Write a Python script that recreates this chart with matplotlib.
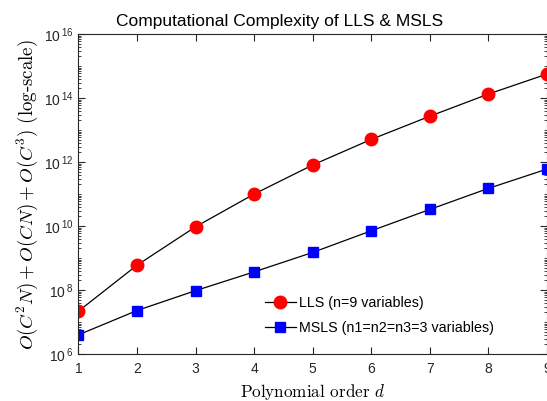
import numpy as np
import matplotlib
matplotlib.use("Agg")
import matplotlib.pyplot as plt
from matplotlib.ticker import LogLocator, FixedLocator, NullFormatter, FuncFormatter

plt.rcParams['font.family'] = ['Liberation Sans', 'DejaVu Sans']
plt.rcParams['mathtext.fontset'] = 'cm'

# polynomial order and complexity estimates
order = [1, 2, 3, 4, 5, 6, 7, 8, 9]
lls = [2.2e7, 6.0e8, 9.5e9, 1.0e11, 8.1e11, 5.1e12, 2.7e13, 1.33e14, 5.6e14]
msls = [4.0e6, 2.3e7, 9.6e7, 3.7e8, 1.5e9, 7.1e9, 3.3e10, 1.5e11, 6.0e11]
lls_label = "LLS (n=9 variables)"
msls_label = "MSLS (n1=n2=n3=3 variables)"

fig = plt.figure(figsize=(5.47, 4.01), dpi=100)
ax = fig.add_axes([0.1435, 0.117, 0.856, 0.798])

ax.semilogy(order, lls, '-', color='black', lw=0.9, marker='o', ms=9,
            mfc='red', mec='red', label=lls_label)
ax.semilogy(order, msls, '-', color='black', lw=0.9, marker='s', ms=6.5,
            mfc='blue', mec='blue', label=msls_label)

ax.set_xlim(1, 9)
ax.set_ylim(1e6, 1e16)
ax.set_xticks(order)
ax.yaxis.set_major_locator(FixedLocator([10.0**k for k in range(6, 17, 2)]))
ax.yaxis.set_major_formatter(FuncFormatter(
    lambda v, p: r'$\mathdefault{10}^{\,\mathdefault{%d}}$' % round(np.log10(v))))
ax.yaxis.set_minor_locator(LogLocator(base=10, subs=np.arange(1, 10), numticks=50))
ax.yaxis.set_minor_formatter(NullFormatter())

c = '#262626'
for s in ax.spines.values():
    s.set_color(c)
    s.set_linewidth(0.8)
ax.tick_params(which='both', direction='in', top=True, right=True, colors=c,
               labelsize=10)
ax.tick_params(which='major', length=5)
ax.tick_params(which='minor', length=2.5)
ax.tick_params(axis='x', pad=6)

ax.set_title("Computational Complexity of LLS & MSLS", fontsize=12.5, pad=6,
             x=0.43)
ax.set_xlabel(r"Polynomial order $d$", fontsize=12.3, family='cmr10', labelpad=4)
ax.set_ylabel(r"$O(C^2N) + O(CN) + O(C^3)$ (log-scale)", fontsize=13.6,
              family='cmr10', labelpad=3)

ax.legend(loc='lower left', bbox_to_anchor=(0.37, 0.02), frameon=False,
          fontsize=10.3, handlelength=2.2, handletextpad=0.2, labelspacing=0.75)

fig.savefig("out.png", dpi=100)
